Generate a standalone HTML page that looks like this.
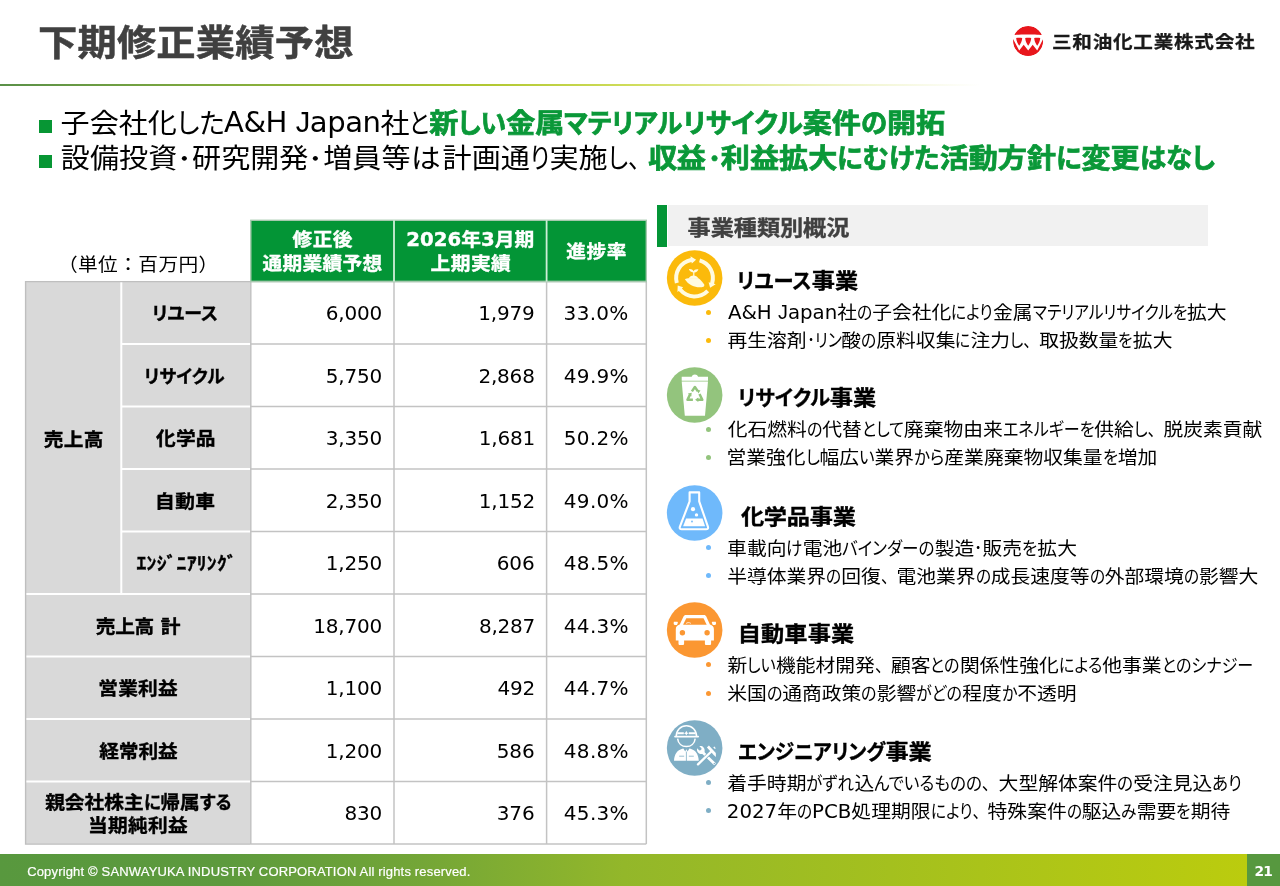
<!DOCTYPE html>
<html lang="ja">
<head>
<meta charset="utf-8">
<title>下期修正業績予想</title>
<style>
*{margin:0;padding:0;box-sizing:border-box}
html,body{width:1280px;height:886px;background:#fff;overflow:hidden}
body{font-family:"DejaVu Sans","Liberation Sans","Noto Sans CJK JP",sans-serif;color:#000}
#slide{position:relative;width:1280px;height:886px;overflow:hidden;background:#fff}
.abs{position:absolute;white-space:nowrap}
.t{height:30px;line-height:30px;transform-origin:0 50%}
.ln{position:absolute;left:0;top:0;width:0;height:0}
.k{display:inline-block;transform-origin:0 50%;white-space:nowrap;height:30px;vertical-align:top}
.title{font-size:39.3px;font-weight:700;color:#404040;font-feature-settings:"palt" 1;transform:scaleY(0.93);-webkit-text-stroke:0.5px #404040}
.logo{font-size:19.6px;font-weight:700;color:#1a1a1a;transform:scaleY(0.88);-webkit-text-stroke:0.3px #1a1a1a}
.lead{font-size:29.1px;font-weight:400;color:#000;font-feature-settings:"palt" 1;transform:scaleY(0.95)}
.leadg{font-size:29.1px;font-weight:700;color:#0a9838;font-feature-settings:"palt" 1;transform:scaleY(0.92);-webkit-text-stroke:0.8px #0a9838}
.tu{font-size:19.7px;font-weight:400;color:#000;transform:scaleY(0.93)}
.th{font-size:19.7px;font-weight:700;color:#fff;font-feature-settings:"palt" 1;transform:scaleY(0.93);-webkit-text-stroke:0.4px #fff}
.tl{font-size:19.7px;font-weight:700;color:#000;font-feature-settings:"palt" 1;transform:scaleY(0.93);-webkit-text-stroke:0.4px #000}
.tn{font-size:20.0px;font-weight:400;color:#000}
.hd{font-size:23.2px;font-weight:700;color:#404040;font-feature-settings:"palt" 1;transform:scaleY(0.9);-webkit-text-stroke:0.4px #404040}
.st{font-size:23.2px;font-weight:700;color:#000;font-feature-settings:"palt" 1;transform:scaleY(0.9);-webkit-text-stroke:0.4px #000}
.bl{font-size:19.8px;font-weight:400;color:#000;font-feature-settings:"palt" 1;transform:scaleY(0.93)}
.copy{font-size:13.0px;font-weight:400;color:#fff;-webkit-text-stroke:0.2px #fff}
.pg{font-size:13.8px;font-weight:700;color:#fff}
.copy{font-family:"Liberation Sans",sans-serif}
.logo{font-family:"Liberation Sans","Noto Sans CJK JP",sans-serif}
.lj{font-family:"Liberation Sans",sans-serif;line-height:0}
.md{display:inline-block;transform:scale(.8);line-height:0}
.la{display:inline-block;line-height:1;transform-origin:0 84.6%;white-space:pre}
.np{font-feature-settings:"palt" 0}
#rule{left:0;top:84px;width:980px;height:2px;background:linear-gradient(90deg,#5a9048 0%,#86ae3c 25%,#b2c832 50%,rgba(198,214,60,.85) 64%,rgba(205,218,80,.35) 84%,rgba(210,222,100,0) 100%)}
.sq{left:39.1px;width:12.6px;height:12.5px;background:#079634}
.dot{width:5.2px;height:5.2px;border-radius:50%}
#footer{left:0;top:854px;width:1247px;height:32px;background:linear-gradient(90deg,#58983e 0%,#5d9a3d 18%,#74a637 34%,#93b72a 50%,#bbcc0e 100%)}
#pgbox{left:1247px;top:854px;width:33px;height:32px;background:#57983f}

</style>
</head>
<body>
<div id="slide">
<div id="rule" class="abs"></div>
<div id="title" class="abs t title" style="left:37.97px;top:28.80px;letter-spacing:0.166px">下期修正業績予想</div>
<svg class="abs" style="left:1010px;top:23px" width="36" height="36" viewBox="-18 -18 36 36"><circle cx="0.1" cy="0.1" r="15" fill="#e8161c"/><g transform="translate(0,.45)"><path fill="#fff" d="M-15.2-6.3C-10-7.3 10-7.3 15.4-6.3V-3L9.2 9L4.7 3.2L.2 9L-4.3 3.2L-8.8 9L-15.2-3Z"/><path fill="#e8161c" d="M-11.8-3.4C-9.8-3.9 -7.8-3.9 -5.8-3.4C-6.0-.4 -7.2 2.2 -8.8 4.2C-10.4 2.2 -11.6-.4 -11.8-3.4Z"/><path fill="#e8161c" d="M-2.8-3.4C-0.8-3.9 1.2-3.9 3.2-3.4C3.0-.4 1.8 2.2 0.2 4.2C-1.4 2.2 -2.6-.4 -2.8-3.4Z"/><path fill="#e8161c" d="M6.2-3.4C8.2-3.9 10.2-3.9 12.2-3.4C12.0-.4 10.8 2.2 9.2 4.2C7.6 2.2 6.4-.4 6.2-3.4Z"/></g><circle cx="0.1" cy="0.1" r="16.6" fill="none" stroke="#fff" stroke-width="2.8"/></svg>
<div id="logo" class="abs t logo" style="left:1051.99px;top:26.90px;letter-spacing:0.738px">三和油化工業株式会社</div>
<div class="abs sq" style="top:120px"></div>
<p class="ln"><span id="l1a" class="abs t lead" style="left:60.54px;top:107.83px">子会社化<span class="k" style="width:47.57px;transform:scaleX(0.9088)">した</span></span><span id="l1a2" class="abs t lead" style="left:223.99px;top:107.83px;letter-spacing:-0.490px"><span class="la" style="transform:scaleY(1.037)">A&amp;H <span class="lj">J</span>apan</span>社<span class="k" style="width:20.12px;transform:scaleX(0.7848)">と</span></span><span id="l1b" class="abs t leadg" style="left:429.14px;top:109.10px">新<span class="k" style="width:48.00px;transform:scaleX(0.8846)">しい</span>金属<span class="k" style="width:118.54px;transform:scaleX(0.8846)">マテリアル</span></span><span id="l1b2" class="abs t leadg" style="left:682.95px;top:109.10px"><span class="k" style="width:119.81px;transform:scaleX(0.9084)">リサイクル</span>案件<span class="k" style="width:26.06px;transform:scaleX(0.9084)">の</span>開拓</span></p>
<div class="abs sq" style="top:155px"></div>
<p class="ln"><span id="l2a" class="abs t lead" style="left:60.87px;top:142.73px">設備投資<span class="k" style="width:14.82px;transform:scaleX(1.0191)"><span class="md">・</span></span>研究開発<span class="k" style="width:14.82px;transform:scaleX(1.0191)"><span class="md">・</span></span>増員等<span class="k" style="width:29.65px;transform:scaleX(1.0191)">は</span></span><span id="l2a2" class="abs t lead" style="left:442.57px;top:142.73px">計画通<span class="k" style="width:19.64px;transform:scaleX(0.8110)">り</span>実施<span class="k" style="width:43.54px;transform:scaleX(0.8110)">し<span class="np">、</span></span></span><span id="l2b" class="abs t leadg" style="left:648.15px;top:144.00px;letter-spacing:-0.380px">収益</span><span id="l2b2" class="abs t leadg" style="left:707.70px;top:144.00px"><span class="k" style="width:13.17px;transform:scaleX(0.9053)"><span class="md">・</span></span>利益拡大<span class="k" style="width:102.41px;transform:scaleX(0.9053)">にむけた</span>活動方針<span class="k" style="width:25.48px;transform:scaleX(0.9053)">に</span>変更<span class="k" style="width:74.88px;transform:scaleX(0.9053)">はなし</span></span></p>
<svg class="abs" style="left:0;top:0" width="1280" height="886" viewBox="0 0 1280 886">
<rect x="250.8" y="220.3" width="395.5" height="61.3" fill="#039536"/>
<rect x="25.6" y="281.6" width="225.2" height="562.50" fill="#D9D9D9"/>
<path d="M121.3 344.10H250.8M121.3 406.60H250.8M121.3 469.10H250.8M121.3 531.60H250.8M25.6 594.10H250.8M25.6 656.60H250.8M25.6 719.10H250.8M25.6 781.60H250.8M121.3 281.6V594.10" fill="none" stroke="#fff" stroke-width="2"/>
<path d="M250.8 281.60H646.3M250.8 344.10H646.3M250.8 406.60H646.3M250.8 469.10H646.3M250.8 531.60H646.3M250.8 594.10H646.3M250.8 656.60H646.3M250.8 719.10H646.3M250.8 781.60H646.3M250.8 844.10H646.3M250.8 281.6V844.10M394.0 281.6V844.10M546.6 281.6V844.10M646.3 281.6V844.10" fill="none" stroke="#c3c3c3" stroke-width="1.5"/>
<path d="M250.8 281.6H25.6V844.10H250.8" fill="none" stroke="#BFBFBF" stroke-width="1.4"/>
<rect x="250.8" y="220.3" width="395.5" height="61.3" fill="none" stroke="#a6c9ae" stroke-width="1.4"/>
<path d="M394.0 220.3V281.6M546.6 220.3V281.6" fill="none" stroke="#cdeed6" stroke-width="1.8"/>
</svg>
<div id="tu" class="abs t tu" style="left:57.90px;top:250.30px;letter-spacing:0.413px">（単位：百万円）</div>
<div id="h1a" class="abs t th" style="left:292.54px;top:224.80px;letter-spacing:0.450px">修正後</div>
<div id="h1b" class="abs t th" style="left:262.40px;top:249.00px;letter-spacing:0.312px">通期業績予想</div>
<div id="h2a" class="abs t th" style="left:406.16px;top:224.80px;letter-spacing:0.056px"><span class="la" style="transform:scaleY(1.059)">2026</span>年<span class="la" style="transform:scaleY(1.059)">3</span>月期</div>
<div id="h2b" class="abs t th" style="left:430.62px;top:249.00px;letter-spacing:0.450px">上期実績</div>
<div id="h3" class="abs t th" style="left:566.36px;top:237.00px;letter-spacing:0.450px">進捗率</div>
<div id="c0" class="abs t tl" style="left:43.70px;top:424.50px;letter-spacing:0.323px">売上高</div>
<div id="lb0" class="abs t tl" style="left:152.12px;top:299.10px"><span class="k" style="width:65.98px;transform:scaleX(0.9106)">リユース</span></div>
<div id="lb1" class="abs t tl" style="left:144.26px;top:361.60px"><span class="k" style="width:80.58px;transform:scaleX(0.9028)">リサイクル</span></div>
<div id="lb2" class="abs t tl" style="left:156.12px;top:424.10px;letter-spacing:0.194px">化学品</div>
<div id="lb3" class="abs t tl" style="left:155.06px;top:486.60px;letter-spacing:0.450px">自動車</div>
<div id="lb4" class="abs t tl" style="left:136.51px;top:549.10px;letter-spacing:0.238px">ｴﾝｼﾞﾆｱﾘﾝｸﾞ</div>
<div id="lb5" class="abs t tl" style="left:95.66px;top:611.60px;letter-spacing:-0.217px">売上高 計</div>
<div id="lb6" class="abs t tl" style="left:98.33px;top:674.10px;letter-spacing:0.200px">営業利益</div>
<div id="lb7" class="abs t tl" style="left:99.31px;top:736.60px;letter-spacing:-0.119px">経常利益</div>
<div id="lb8a" class="abs t tl" style="left:45.17px;top:788.10px">親会社株主<span class="k" style="width:16.70px;transform:scaleX(0.8767)">に</span>帰属<span class="k" style="width:31.42px;transform:scaleX(0.8767)">する</span></div>
<div id="lb8b" class="abs t tl" style="left:88.03px;top:810.50px;letter-spacing:0.312px">当期純利益</div>
<div id="n0a" class="abs t tn" style="left:325.74px;top:298.20px;letter-spacing:-0.200px">6,000</div>
<div id="n0b" class="abs t tn" style="left:478.26px;top:298.20px;letter-spacing:-0.200px">1,979</div>
<div id="n0c" class="abs t tn" style="left:563.62px;top:298.20px;letter-spacing:0.300px">33.0%</div>
<div id="n1a" class="abs t tn" style="left:325.74px;top:360.70px;letter-spacing:-0.200px">5,750</div>
<div id="n1b" class="abs t tn" style="left:478.41px;top:360.70px;letter-spacing:-0.200px">2,868</div>
<div id="n1c" class="abs t tn" style="left:563.83px;top:360.70px;letter-spacing:0.300px">49.9%</div>
<div id="n2a" class="abs t tn" style="left:325.74px;top:423.20px;letter-spacing:-0.200px">3,350</div>
<div id="n2b" class="abs t tn" style="left:478.76px;top:423.20px;letter-spacing:-0.200px">1,681</div>
<div id="n2c" class="abs t tn" style="left:563.81px;top:423.20px;letter-spacing:0.300px">50.2%</div>
<div id="n3a" class="abs t tn" style="left:325.74px;top:485.70px;letter-spacing:-0.200px">2,350</div>
<div id="n3b" class="abs t tn" style="left:478.79px;top:485.70px;letter-spacing:-0.200px">1,152</div>
<div id="n3c" class="abs t tn" style="left:563.83px;top:485.70px;letter-spacing:0.300px">49.0%</div>
<div id="n4a" class="abs t tn" style="left:325.74px;top:548.20px;letter-spacing:-0.200px">1,250</div>
<div id="n4b" class="abs t tn" style="left:496.84px;top:548.20px;letter-spacing:-0.200px">606</div>
<div id="n4c" class="abs t tn" style="left:563.83px;top:548.20px;letter-spacing:0.300px">48.5%</div>
<div id="n5a" class="abs t tn" style="left:313.19px;top:610.70px;letter-spacing:-0.200px">18,700</div>
<div id="n5b" class="abs t tn" style="left:478.90px;top:610.70px;letter-spacing:-0.200px">8,287</div>
<div id="n5c" class="abs t tn" style="left:563.83px;top:610.70px;letter-spacing:0.300px">44.3%</div>
<div id="n6a" class="abs t tn" style="left:325.74px;top:673.20px;letter-spacing:-0.200px">1,100</div>
<div id="n6b" class="abs t tn" style="left:497.48px;top:673.20px;letter-spacing:-0.200px">492</div>
<div id="n6c" class="abs t tn" style="left:563.83px;top:673.20px;letter-spacing:0.300px">44.7%</div>
<div id="n7a" class="abs t tn" style="left:325.74px;top:735.70px;letter-spacing:-0.200px">1,200</div>
<div id="n7b" class="abs t tn" style="left:496.84px;top:735.70px;letter-spacing:-0.200px">586</div>
<div id="n7c" class="abs t tn" style="left:563.83px;top:735.70px;letter-spacing:0.300px">48.8%</div>
<div id="n8a" class="abs t tn" style="left:344.45px;top:798.20px;letter-spacing:-0.200px">830</div>
<div id="n8b" class="abs t tn" style="left:496.84px;top:798.20px;letter-spacing:-0.200px">376</div>
<div id="n8c" class="abs t tn" style="left:563.83px;top:798.20px;letter-spacing:0.300px">45.3%</div>
<div class="abs" style="left:657.3px;top:204.8px;width:9.5px;height:41.8px;background:#039536"></div>
<div class="abs" style="left:668.2px;top:204.8px;width:539.9px;height:41.7px;background:#f1f1f1"></div>
<div id="hd" class="abs t hd" style="left:687.62px;top:212.66px;letter-spacing:-0.096px">事業種類別概況</div>
<svg class="abs" style="left:666px;top:249.0px" width="58" height="58" viewBox="-29 -29 58 58"><circle cx="-0.35" cy="0" r="27.8" fill="#fbba0b"/><g transform="translate(-0.5,0)" fill="#fffbe0"><path d="M-19.61 5.62A20.40 20.40 0 0 1 -3.74 -20.05L-4.05 -21.73L1.60 -18.33L-2.70 -14.45L-3.01 -16.12A16.40 16.40 0 0 0 -15.76 4.52Z"/><path d="M5.62 -19.61A20.40 20.40 0 0 1 19.57 5.77L21.20 6.25L15.60 9.75L14.10 4.16L15.73 4.64A16.40 16.40 0 0 0 4.52 -15.76Z"/><path d="M14.67 14.17A20.40 20.40 0 0 1 -15.73 13.00L-17.04 14.08L-16.81 7.48L-11.33 9.36L-12.64 10.45A16.40 16.40 0 0 0 11.80 11.39Z"/><path d="M-9.6 1.2C-8.4.4-6.8.2-5.2.2H3.6C5 .8 6.2 2 7.4 3.4L9.6 6.2C10 7.2 9.8 8.2 9 8.8C7.2 9.4 5 9.4 3 9.2C.4 8.8-2.2 8-4.4 6.6C-6.4 5.2-8.2 3.4-9.6 1.2Z"/><path d="M-5.9.7C-5-1.4-3-2.4-1-2.4C1-2.4 3-1.4 4 .7Z"/><path d="M-1.3-2V-5.6C-3.2-5.6-5-6.6-5.6-8.9C-3.6-9.3-1.8-8.4-.9-6.8C-.4-8.2 1.4-9.2 3.9-8.7C3.4-6.6 2-5.6-.1-5.5V-2Z"/></g></svg>
<svg class="abs" style="left:666px;top:366.2px" width="58" height="58" viewBox="-29 -29 58 58"><circle cx="-0.35" cy="0" r="27.8" fill="#93c47d"/><g transform="translate(-0.3,0)"><path fill="#fff" d="M-13-18.2H-3C-2.4-19.6-1.4-20.4.2-20.4C1.8-20.4 2.8-19.6 3.4-18.2H13.3V-14.3H-13Z"/><path fill="#fff" d="M-13-13.5H13.3L10.3 20.7H-9.9Z"/><g fill="none" stroke="#93c47d" stroke-width="2.5" stroke-linejoin="round"><path d="M-2.8-3.6L.2-8L3.2-3.6"/><path d="M4.8-1L7.6 4.8H2.2"/><path d="M-1.8 4.8H-7.2L-4.6-.6"/></g><g fill="#93c47d"><path d="M2.2-5.4L5.8-4.6L3.6-1.6Z"/><path d="M3.6 2.4V7L.4 4.8Z"/><path d="M-6.8-1.4L-3-2.2L-3.4 1.6Z"/></g></g></svg>
<svg class="abs" style="left:666px;top:483.6px" width="58" height="58" viewBox="-29 -29 58 58"><circle cx="-0.35" cy="0" r="27.8" fill="#6fb9fb"/><g transform="translate(-0.3,0)"><path fill="none" stroke="#fff" stroke-width="2.1" stroke-linejoin="round" d="M-5.1-20.6H4.5V-11.6L13.2 13.6C13.8 15.4 13 16.3 11.4 16.3H-13C-14.6 16.3-15.4 15.4-14.8 13.6L-5.1-11.6Z"/><path fill="#fff" d="M-8.6 5.4H7.8L10.4 13.3H-11.6Z"/><circle cx="-1.7" cy="-3.8" r="2.1" fill="#fff"/><circle cx="1.8" cy="1.9" r="1.7" fill="#fff"/><circle cx="-2.7" cy="8.5" r=".9" fill="#6fb9fb"/></g></svg>
<svg class="abs" style="left:666px;top:601.1px" width="58" height="58" viewBox="-29 -29 58 58"><circle cx="-0.35" cy="0" r="27.8" fill="#fb9732"/><g transform="translate(-0.5,0)"><path fill="#fff" d="M-8.6-14.9H9.4C10.6-14.9 11.4-14.4 11.9-13.3L15.4-5.6C18-5 19.4-3.4 19.4-.8V10.4H16.6V13.4C16.6 14.4 16 14.9 15.2 14.9H11.8C11 14.9 10.4 14.4 10.4 13.4V10.4H-10.4V13.4C-10.4 14.4-11 14.9-11.8 14.9H-14.6C-15.4 14.9-16 14.4-16 13.4V10.4H-18.7V-.8C-18.7-3.4-17.4-5-14.8-5.6L-11.1-13.3C-10.6-14.4-9.8-14.9-8.6-14.9Z"/><path fill="#fb9732" d="M-8.2-11.7H9L12.2-5.2H-11.4Z"/><path fill="#fff" d="M-20.6-8.2H-17.6C-16.8-8.2-16.4-7.6-16.7-6.9L-17.6-5H-19.6C-20.6-5-21.2-6-20.6-8.2Z"/><path fill="#fff" d="M21.3-8.2H18.3C17.5-8.2 17.1-7.6 17.4-6.9L18.3-5H20.3C21.3-5 21.9-6 21.3-8.2Z"/><circle cx="-12.1" cy="2.8" r="2.7" fill="#fb9732"/><circle cx="12.6" cy="2.8" r="2.7" fill="#fb9732"/><path fill="none" stroke="#fff" stroke-width=".8" d="M-8.6-6.2C-7.6-7.6-5.4-7.8-3.6-6.6"/></g></svg>
<svg class="abs" style="left:666px;top:718.8px" width="58" height="58" viewBox="-29 -29 58 58"><circle cx="-0.35" cy="0" r="27.8" fill="#7faec5"/><g transform="translate(-0.2,0)"><path fill="none" stroke="#fff" stroke-width="1.5" d="M-18.6-11.6C-18.6-18 -14-22.2 -8.4-22.2C-2.8-22.2 1.8-18 1.8-11.6"/><path fill="none" stroke="#fff" stroke-width="1.7" stroke-linecap="round" d="M-19.8-11.4H3.4"/><path fill="none" stroke="#fff" stroke-width="2" d="M-17.4-14.8H-11M-6-14.8H.6"/><path fill="#fff" d="M-8.5-17.2L-7.7-15.6L-6.1-14.8L-7.7-14L-8.5-12.4L-9.3-14L-10.9-14.8L-9.3-15.6Z"/><path fill="none" stroke="#fff" stroke-width="1.5" d="M-17.2-9.4C-16.6-4.4 -13-1.4 -8.4-1.4C-3.8-1.4 -.2-4.4 .4-9.4"/><path fill="#fff" d="M-20.8 12.7C-20.4 6 -17.4 2.2 -12.6 .8L-11.4 .6L-9.6 3.6L-8.4 1.2L-7.2 3.6L-5.4 .6L-4.2 .8C.6 2.2 3.6 6 4 12.7Z"/><path fill="none" stroke="#7faec5" stroke-width=".8" d="M-8.4 3.6V13M-15.6 8.2H-10.6M-6 8.2H-1"/><path fill="none" stroke="#fff" stroke-width="2.8" stroke-linecap="round" d="M8 4.6L19.4 15.4"/><path fill="#fff" transform="translate(2.2,-1.8) scale(.84) translate(-2.2,1.8)" d="M10.6 6.6C8.4 8 5.2 7.6 3.4 5.6C2.2 4.2 1.8 2.4 2.4.6L5 3.2L7.2 2.8L7.6.6L5-1.8C6.8-2.4 8.8-1.8 10-.4C11.6 1.4 11.8 4.4 10.6 6.6Z"/><circle cx="19.5" cy="15.5" r=".7" fill="#7faec5"/><path fill="none" stroke="#7faec5" stroke-width="3.6" d="M6.6 13.2L13.6 6.4"/><path fill="none" stroke="#fff" stroke-width="2.3" stroke-linecap="round" d="M3.2 16.4L16 4"/><path fill="#fff" d="M12.1-.5L14.1-2.4L21 5L21.1 9L18.9 6.9L12.1-.5Z"/><path fill="#fff" d="M18.4-.8L19.6-1.6L21 .2L20 .9Z"/></g></svg>
<div class="abs dot" style="left:706.1px;top:309.9px;background:#fbba0b"></div>
<div class="abs dot" style="left:706.1px;top:338.0px;background:#fbba0b"></div>
<div class="abs dot" style="left:706.1px;top:426.9px;background:#93c47d"></div>
<div class="abs dot" style="left:706.1px;top:454.7px;background:#93c47d"></div>
<div class="abs dot" style="left:706.1px;top:545.2px;background:#6fb9fb"></div>
<div class="abs dot" style="left:706.1px;top:573.3px;background:#6fb9fb"></div>
<div class="abs dot" style="left:706.1px;top:662.3px;background:#fb9732"></div>
<div class="abs dot" style="left:706.1px;top:691.0px;background:#fb9732"></div>
<div class="abs dot" style="left:706.1px;top:780.2px;background:#7faec5"></div>
<div class="abs dot" style="left:706.1px;top:808.3px;background:#7faec5"></div>
<div id="s0" class="abs t st" style="left:737.30px;top:266.39px"><span class="k" style="width:74.52px;transform:scaleX(0.8734)">リユース</span>事業</div>
<div id="s0a" class="abs t bl" style="left:727.92px;top:298.30px"><span class="la" style="transform:scaleY(1.059)">A&amp;H <span class="lj">J</span>apan</span>社<span class="k" style="width:15.16px;transform:scaleX(0.7947)">の</span>子会社化<span class="k" style="width:41.63px;transform:scaleX(0.7947)">により</span>金属<span class="k" style="width:154.51px;transform:scaleX(0.7947)">マテリアルリサイクルを</span>拡大</div>
<div id="s0b" class="abs t bl" style="left:727.44px;top:326.40px">再生溶剤<span class="k" style="width:34.74px;transform:scaleX(0.7957)"><span class="md">・</span>リン</span>酸<span class="k" style="width:15.18px;transform:scaleX(0.7957)">の</span>原料収集<span class="k" style="width:15.17px;transform:scaleX(0.7957)">に</span>注力<span class="k" style="width:29.05px;transform:scaleX(0.7957)">し<span class="np">、</span></span>取扱数量<span class="k" style="width:14.53px;transform:scaleX(0.7957)">を</span>拡大</div>
<div id="s1" class="abs t st" style="left:737.60px;top:383.39px"><span class="k" style="width:92.17px;transform:scaleX(0.8769)">リサイクル</span>事業</div>
<div id="s1a" class="abs t bl" style="left:727.65px;top:415.30px">化石燃料<span class="k" style="width:15.49px;transform:scaleX(0.8119)">の</span>代替<span class="k" style="width:42.01px;transform:scaleX(0.8119)">として</span>廃棄物由来<span class="k" style="width:91.51px;transform:scaleX(0.8119)">エネルギーを</span>供給<span class="k" style="width:29.65px;transform:scaleX(0.8119)">し<span class="np">、</span></span>脱炭素貢献</div>
<div id="s1b" class="abs t bl" style="left:726.42px;top:443.10px">営業強化<span class="k" style="width:13.90px;transform:scaleX(0.8316)">し</span>幅広<span class="k" style="width:15.54px;transform:scaleX(0.8316)">い</span>業界<span class="k" style="width:30.20px;transform:scaleX(0.8316)">から</span>産業廃棄物収集量<span class="k" style="width:15.19px;transform:scaleX(0.8316)">を</span>増加</div>
<div id="s2" class="abs t st" style="left:740.91px;top:502.39px;letter-spacing:-0.248px">化学品事業</div>
<div id="s2a" class="abs t bl" style="left:727.12px;top:533.60px">車載向<span class="k" style="width:16.18px;transform:scaleX(0.8377)">け</span>電池<span class="k" style="width:92.42px;transform:scaleX(0.8377)">バインダーの</span>製造<span class="k" style="width:8.29px;transform:scaleX(0.8377)"><span class="md">・</span></span>販売<span class="k" style="width:15.30px;transform:scaleX(0.8377)">を</span>拡大</div>
<div id="s2b" class="abs t bl" style="left:727.21px;top:561.70px">半導体業界<span class="k" style="width:15.10px;transform:scaleX(0.7915)">の</span>回復<span class="k" style="width:15.67px;transform:scaleX(0.7915)"><span class="np">、</span></span>電池業界<span class="k" style="width:15.10px;transform:scaleX(0.7915)">の</span>成長速度等<span class="k" style="width:15.10px;transform:scaleX(0.7915)">の</span>外部環境<span class="k" style="width:15.10px;transform:scaleX(0.7915)">の</span>影響大</div>
<div id="s3" class="abs t st" style="left:737.68px;top:619.39px;letter-spacing:0.157px">自動車事業</div>
<div id="s3a" class="abs t bl" style="left:727.43px;top:650.70px">新<span class="k" style="width:28.70px;transform:scaleX(0.8110)">しい</span>機能材開発<span class="k" style="width:16.06px;transform:scaleX(0.8110)"><span class="np">、</span></span>顧客<span class="k" style="width:29.45px;transform:scaleX(0.8110)">との</span>関係性強化<span class="k" style="width:43.35px;transform:scaleX(0.8110)">による</span>他事業<span class="k" style="width:91.11px;transform:scaleX(0.8110)">とのシナジー</span></div>
<div id="s3b" class="abs t bl" style="left:727.13px;top:679.40px">米国<span class="k" style="width:15.43px;transform:scaleX(0.8089)">の</span>通商政策<span class="k" style="width:15.43px;transform:scaleX(0.8089)">の</span>影響<span class="k" style="width:45.93px;transform:scaleX(0.8089)">がどの</span>程度<span class="k" style="width:15.49px;transform:scaleX(0.8089)">か</span>不透明</div>
<div id="s4" class="abs t st" style="left:738.39px;top:737.29px"><span class="k" style="width:147.05px;transform:scaleX(0.8474)">エンジニアリング</span>事業</div>
<div id="s4a" class="abs t bl" style="left:727.31px;top:768.60px">着手時期<span class="k" style="width:48.01px;transform:scaleX(0.8359)">がずれ</span>込<span class="k" style="width:124.39px;transform:scaleX(0.8359)">んでいるものの<span class="np">、</span></span>大型解体案件<span class="k" style="width:15.95px;transform:scaleX(0.8359)">の</span>受注見込<span class="k" style="width:29.82px;transform:scaleX(0.8359)">あり</span></div>
<div id="s4b" class="abs t bl" style="left:726.83px;top:796.70px"><span class="la" style="transform:scaleY(1.059)">2027</span>年<span class="k" style="width:15.08px;transform:scaleX(0.7907)">の</span><span class="la" style="transform:scaleY(1.059)">PCB</span>処理期限<span class="k" style="width:57.08px;transform:scaleX(0.7907)">により<span class="np">、</span></span>特殊案件<span class="k" style="width:15.08px;transform:scaleX(0.7907)">の</span>駆込<span class="k" style="width:15.31px;transform:scaleX(0.7907)">み</span>需要<span class="k" style="width:14.44px;transform:scaleX(0.7907)">を</span>期待</div>
<div id="footer" class="abs"></div>
<div id="pgbox" class="abs"></div>
<div id="copy" class="abs t copy" style="left:27.15px;top:857.00px;letter-spacing:0.166px">Copyright © SANWAYUKA INDUSTRY CORPORATION All rights reserved.</div>
<div id="pg" class="abs t pg" style="left:1254.47px;top:856.00px;letter-spacing:-0.839px">21</div>
</div>
</body>
</html>
